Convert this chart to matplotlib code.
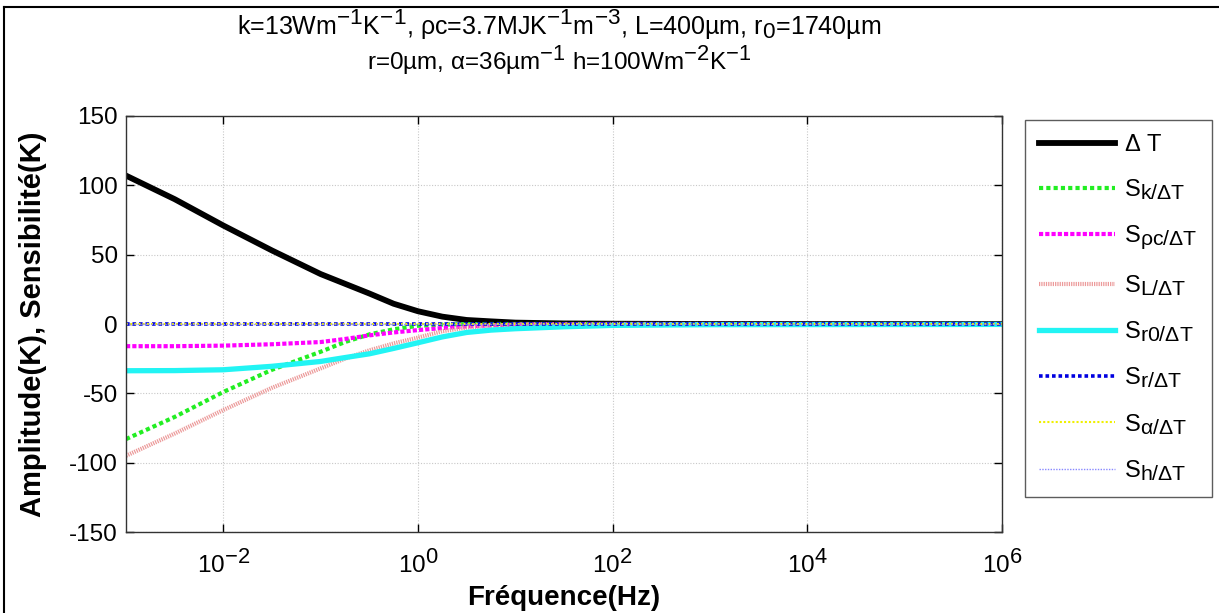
import matplotlib
matplotlib.use("Agg")
import matplotlib.pyplot as plt
from matplotlib.lines import Line2D
try:
    import matplotlib._mathtext as _mt
    _mt.SHRINK_FACTOR = 0.9
except Exception:
    pass

plt.rcParams['font.family'] = ['Liberation Sans', 'DejaVu Sans']
plt.rcParams['mathtext.fontset'] = 'custom'
plt.rcParams['mathtext.rm'] = 'Liberation Sans'
plt.rcParams['mathtext.it'] = 'Liberation Sans'
plt.rcParams['mathtext.bf'] = 'Liberation Sans:bold'
plt.rcParams['axes.unicode_minus'] = False

# Data, frequencies in Hz
freq = [1e-3, 10**-2.5, 1e-2, 10**-1.5, 1e-1, 10**-0.75, 10**-0.5, 10**-0.25, 1e0,
        10**0.25, 10**0.5, 10**0.75, 1e1, 10**1.5, 1e2, 1e3, 1e6]
dT = [107, 90, 71, 53, 36, 29, 22, 14.6, 9.2, 5.3, 2.9, 1.9, 1.0, 0.4, 0.2, 0.0, 0.0]
S_k = [-83, -67, -49, -33, -20, -13, -7.5, -3.8, -1.3, -0.4, -0.1, 0.0, 0.0, 0.0, 0.0, 0.0, 0.0]
S_rhoc = [-16, -16, -15.6, -14.6, -13, -10.8, -8.2, -6.1, -4.4, -2.9, -1.7, -1.0, -0.5, -0.2, 0.0, 0.0, 0.0]
S_L = [-95, -79, -62, -46, -32, -25, -19, -14, -9.8, -5.2, -2.6, -1.2, -0.5, -0.2, 0.0, 0.0, 0.0]
S_r0 = [-33.7, -33.6, -33, -30.5, -27, -24.2, -21.5, -17.6, -13.5, -9.3, -6.1, -4.4, -3.4, -2.0, -1.0, -0.5, -0.3]
S_r = [0.0] * 17
S_alpha = [0.0] * 17
S_h = [0.0] * 17

labels = [r'$\Delta$ T', r'S$_{k/\Delta T}$', r'S$_{\rho c/\Delta T}$', r'S$_{L/\Delta T}$',
          r'S$_{r0/\Delta T}$', r'S$_{r/\Delta T}$', r'S$_{\alpha/\Delta T}$', r'S$_{h/\Delta T}$']
xticks = [1e-2, 1e0, 1e2, 1e4, 1e6]
xticklabels = [r'10$^{-2}$', r'10$^{0}$', r'10$^{2}$', r'10$^{4}$', r'10$^{6}$']
yticks = [-150, -100, -50, 0, 50, 100, 150]

fig = plt.figure(figsize=(12.19, 6.13), dpi=100)
ax = fig.add_axes([0.1034, 0.1321, 0.7185, 0.6787])

ax.plot(freq, dT, color='black', lw=4.2, label=labels[0])
ax.plot(freq, S_k, color='#22ee22', lw=3.0, linestyle=(0, (1, 0.75)), label=labels[1])
ax.plot(freq, S_rhoc, color='#ff00ff', lw=3.0, linestyle=(0, (1, 0.5)), label=labels[2])
ax.plot(freq, S_L, color='#ec9a9a', lw=3.0, linestyle=(0, (0.3, 0.25)), label=labels[3])
ax.plot(freq, S_r0, color='#22f4f4', lw=3.8, label=labels[4])
ax.plot(freq, S_r, color='#0000e0', lw=2.6, linestyle=(0, (1, 0.8)), label=labels[5])
ax.plot(freq, S_alpha, color='#f0f000', lw=1.5, linestyle=(0, (1, 1)), label=labels[6])
ax.plot(freq, S_h, color='#8888ff', lw=1.0, linestyle=(0, (1, 1)), label=labels[7])

ax.set_xscale('log')
ax.set_xlim(1e-3, 1e6)
ax.set_ylim(-150, 150)
ax.set_xticks(xticks)
ax.set_xticklabels(xticklabels)
ax.xaxis.set_minor_locator(matplotlib.ticker.NullLocator())
ax.set_yticks(yticks)
ax.tick_params(direction='in', top=True, right=True, length=6, width=1, labelsize=17.5, pad=6)
ax.tick_params(axis='x', pad=13)
ax.grid(True, color='#c8c8c8', linestyle=(0, (1, 1.5)), lw=0.8)
for s in ax.spines.values():
    s.set_linewidth(1.0)
    s.set_color('#333333')

ax.set_xlabel('Fréquence(Hz)', fontsize=20, fontweight='bold', labelpad=5)
ax.set_ylabel('Amplitude(K), Sensibilité(K)', fontsize=21, fontweight='bold', labelpad=16)

fig.text(0.459, 0.962, r'k=13Wm$^{-1}$K$^{-1}$, $\rho$c=3.7MJK$^{-1}$m$^{-3}$, L=400µm, r$_0$=1740µm',
         ha='center', va='center', fontsize=18)
fig.text(0.459, 0.902, r'r=0µm, $\alpha$=36µm$^{-1}$ h=100Wm$^{-2}$K$^{-1}$',
         ha='center', va='center', fontsize=17.5)

leg = fig.legend(loc='upper left', bbox_to_anchor=(1025 / 1219, 1 - 120 / 613),
                 fontsize=17, frameon=True, fancybox=False, edgecolor='#333333',
                 handlelength=3.2, labelspacing=0.9, borderpad=0.6, handletextpad=0.4,
                 borderaxespad=0)
leg.get_frame().set_linewidth(1.0)

# figure border (top and left edges visible in the reference)
fig.add_artist(Line2D([0.003, 0.003], [0.0, 0.989], transform=fig.transFigure, color='black', lw=1.5))
fig.add_artist(Line2D([0.003, 1.0], [0.989, 0.989], transform=fig.transFigure, color='black', lw=1.5))

fig.savefig('out.png', dpi=100)
